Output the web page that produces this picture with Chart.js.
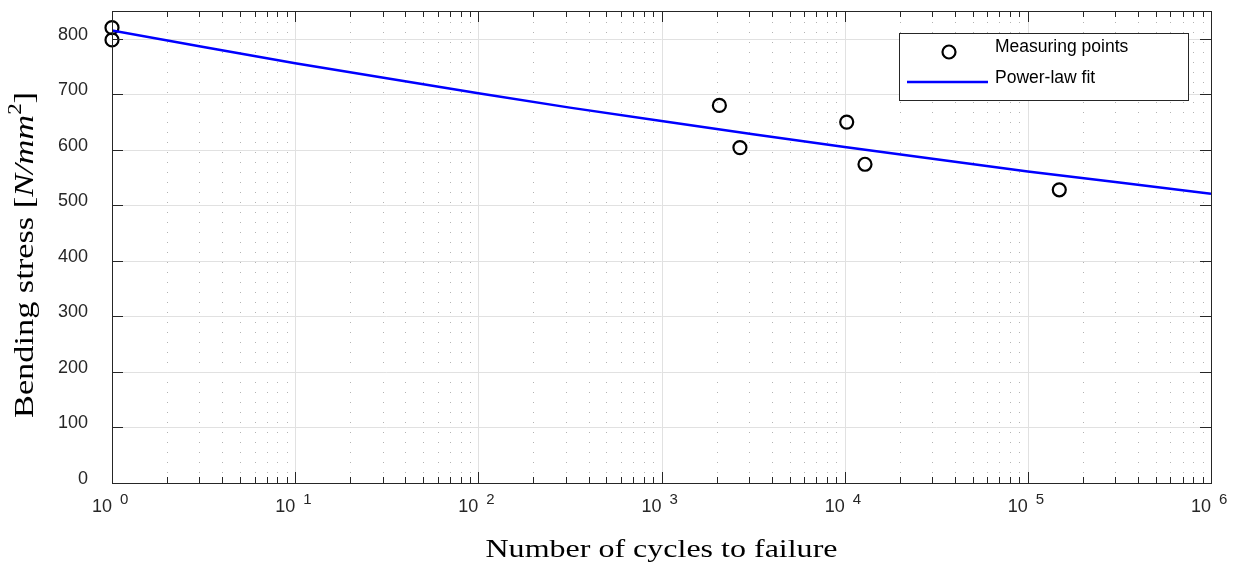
<!DOCTYPE html>
<html>
<head>
<meta charset="utf-8">
<script src="https://cdn.jsdelivr.net/npm/chart.js@4.4.1/dist/chart.umd.min.js"></script>
<style>
html, body { margin: 0; padding: 0; background: #fff; }
#wrap { width: 1237px; height: 565px; }
</style>
</head>
<body>
<div id="wrap"><canvas id="snCurve"></canvas></div>
<script>
// measuring points (cycles, stress in N/mm^2)
const pointCycles = [1, 1, 2070, 2680, 10260, 12910, 148500];
const pointStress = [820, 798, 680, 604, 650, 574, 528];

// power-law fit
const fitCycles = [1, 3.16, 10, 31.6, 100, 316, 1000, 3162, 10000, 31623, 100000, 316228, 1000000];
const fitStress = [815, 785, 756, 729, 702, 676, 652, 628, 605, 583, 561, 541, 521];

// axes
const xMajor = [1, 10, 100, 1000, 10000, 100000, 1000000];
const xExponents = ['0', '1', '2', '3', '4', '5', '6'];
const minorSteps = [2, 3, 4, 5, 6, 7, 8, 9];
const yTicks = [0, 100, 200, 300, 400, 500, 600, 700, 800];

const axisColor = '#262626';
const sans = '"Liberation Sans", Arial, sans-serif';
const serif = '"Liberation Serif", "Times New Roman", serif';

// draws text stretched to a given width
function fitText(ctx, text, x, y, width) {
    const w = ctx.measureText(text).width;
    ctx.save();
    ctx.translate(x, y);
    ctx.scale(width / w, 1);
    ctx.textAlign = 'center';
    ctx.fillText(text, 0, 0);
    ctx.restore();
}

const framePlugin = {
    id: 'frame',

    beforeDatasetsDraw(chart) {
        const {ctx, chartArea: a, scales: {x, y}} = chart;
        ctx.save();
        ctx.lineWidth = 1;

        // minor grid, dotted
        ctx.strokeStyle = 'rgba(38,38,38,0.35)';
        ctx.setLineDash([1, 9]);
        xMajor.slice(0, -1).forEach(d => {
            minorSteps.forEach(m => {
                const px = Math.round(x.getPixelForValue(d * m)) + 0.5;
                ctx.beginPath();
                ctx.moveTo(px, a.bottom);
                ctx.lineTo(px, a.top);
                ctx.stroke();
            });
        });

        // major grid
        ctx.setLineDash([]);
        ctx.strokeStyle = '#e1e1e1';
        xMajor.forEach(v => {
            const px = Math.round(x.getPixelForValue(v)) + 0.5;
            ctx.beginPath();
            ctx.moveTo(px, a.top);
            ctx.lineTo(px, a.bottom);
            ctx.stroke();
        });
        yTicks.forEach(v => {
            const py = Math.round(y.getPixelForValue(v)) + 0.5;
            ctx.beginPath();
            ctx.moveTo(a.left, py);
            ctx.lineTo(a.right, py);
            ctx.stroke();
        });
        ctx.restore();
    },

    afterDatasetsDraw(chart) {
        const {ctx, chartArea: a, scales: {x, y}} = chart;
        ctx.save();

        // box
        ctx.strokeStyle = axisColor;
        ctx.lineWidth = 1;
        ctx.strokeRect(Math.round(a.left) + 0.5, Math.round(a.top) + 0.5,
            Math.round(a.right - a.left), Math.round(a.bottom - a.top));

        // tick marks, inward on all sides
        const tick = (x1, y1, x2, y2) => {
            ctx.beginPath();
            ctx.moveTo(x1, y1);
            ctx.lineTo(x2, y2);
            ctx.stroke();
        };
        yTicks.forEach(v => {
            const py = Math.round(y.getPixelForValue(v)) + 0.5;
            tick(a.left, py, a.left + 11, py);
            tick(a.right, py, a.right - 11, py);
        });
        xMajor.forEach(v => {
            const px = Math.round(x.getPixelForValue(v)) + 0.5;
            tick(px, a.bottom, px, a.bottom - 11);
            tick(px, a.top, px, a.top + 11);
        });
        xMajor.slice(0, -1).forEach(d => {
            minorSteps.forEach(m => {
                const px = Math.round(x.getPixelForValue(d * m)) + 0.5;
                tick(px, a.bottom, px, a.bottom - 6);
                tick(px, a.top, px, a.top + 6);
            });
        });

        ctx.fillStyle = axisColor;
        ctx.textBaseline = 'alphabetic';

        // y tick labels, sitting on their grid line
        ctx.font = '18px ' + sans;
        ctx.textAlign = 'right';
        yTicks.forEach(v => {
            ctx.fillText(String(v), a.left - 24, Math.round(y.getPixelForValue(v)) + 1);
        });

        // x tick labels: 10 with exponent
        xMajor.forEach((v, i) => {
            const px = x.getPixelForValue(v);
            ctx.font = '18px ' + sans;
            ctx.textAlign = 'right';
            ctx.fillText('10', px, 512);
            ctx.font = '15px ' + sans;
            ctx.textAlign = 'left';
            ctx.fillText(xExponents[i], px + 8, 504);
        });

        // x title
        ctx.fillStyle = '#000';
        ctx.font = '26px ' + serif;
        fitText(ctx, 'Number of cycles to failure', (a.left + a.right) / 2, 557, 352);

        // y title, mixed upright and italic
        const parts = [
            {t: 'Bending stress [', f: '27px ' + serif, dy: 0},
            {t: 'N/mm', f: 'italic 27px ' + serif, dy: 0},
            {t: '2', f: '18px ' + serif, dy: -12},
            {t: ']', f: '27px ' + serif, dy: 0}
        ];
        let total = 0;
        parts.forEach(p => {
            ctx.font = p.f;
            p.w = ctx.measureText(p.t).width;
            total += p.w;
        });
        const stretch = 326 / total;
        ctx.translate(33, 255);
        ctx.rotate(-Math.PI / 2);
        ctx.scale(stretch, 1);
        ctx.textAlign = 'left';
        let cx = -total / 2;
        parts.forEach(p => {
            ctx.font = p.f;
            ctx.fillText(p.t, cx, p.dy);
            cx += p.w;
        });
        ctx.setTransform(1, 0, 0, 1, 0, 0);

        // legend
        ctx.fillStyle = '#fff';
        ctx.fillRect(899.5, 33.5, 289, 67);
        ctx.strokeStyle = axisColor;
        ctx.lineWidth = 1;
        ctx.strokeRect(899.5, 33.5, 289, 67);

        ctx.strokeStyle = '#000';
        ctx.lineWidth = 2.2;
        ctx.beginPath();
        ctx.arc(949, 52, 6.5, 0, Math.PI * 2);
        ctx.stroke();

        ctx.strokeStyle = '#0000ff';
        ctx.lineWidth = 2.5;
        ctx.beginPath();
        ctx.moveTo(907, 82);
        ctx.lineTo(988, 82);
        ctx.stroke();

        ctx.fillStyle = '#000';
        ctx.font = '17.5px ' + sans;
        ctx.textAlign = 'left';
        ctx.fillText('Measuring points', 995, 52);
        ctx.fillText('Power-law fit', 995, 83);

        ctx.restore();
    }
};

new Chart(document.getElementById('snCurve'), {
    type: 'scatter',
    data: {
        datasets: [
            {
                label: 'Power-law fit',
                data: fitCycles.map((c, i) => ({x: c, y: fitStress[i]})),
                showLine: true,
                borderColor: '#0000ff',
                borderWidth: 2.5,
                pointRadius: 0,
                fill: false
            },
            {
                label: 'Measuring points',
                data: pointCycles.map((c, i) => ({x: c, y: pointStress[i]})),
                showLine: false,
                pointStyle: 'circle',
                pointRadius: 6.5,
                pointBorderWidth: 2.2,
                borderColor: '#000',
                backgroundColor: 'rgba(0,0,0,0)',
                clip: false
            }
        ]
    },
    options: {
        responsive: true,
        maintainAspectRatio: false,
        animation: false,
        layout: {padding: {top: 11, right: 26, left: 0, bottom: 0}},
        plugins: {
            legend: {display: false},
            tooltip: {enabled: false}
        },
        scales: {
            x: {
                type: 'logarithmic',
                min: 1,
                max: 1000000,
                grid: {display: false},
                border: {display: false},
                ticks: {display: false},
                afterFit: s => { s.height = 82; }
            },
            y: {
                min: 0,
                max: 850,
                grid: {display: false},
                border: {display: false},
                afterBuildTicks: s => { s.ticks = yTicks.map(v => ({value: v})); },
                ticks: {display: false},
                afterFit: s => { s.width = 112; }
            }
        }
    },
    plugins: [framePlugin]
});
</script>
</body>
</html>
